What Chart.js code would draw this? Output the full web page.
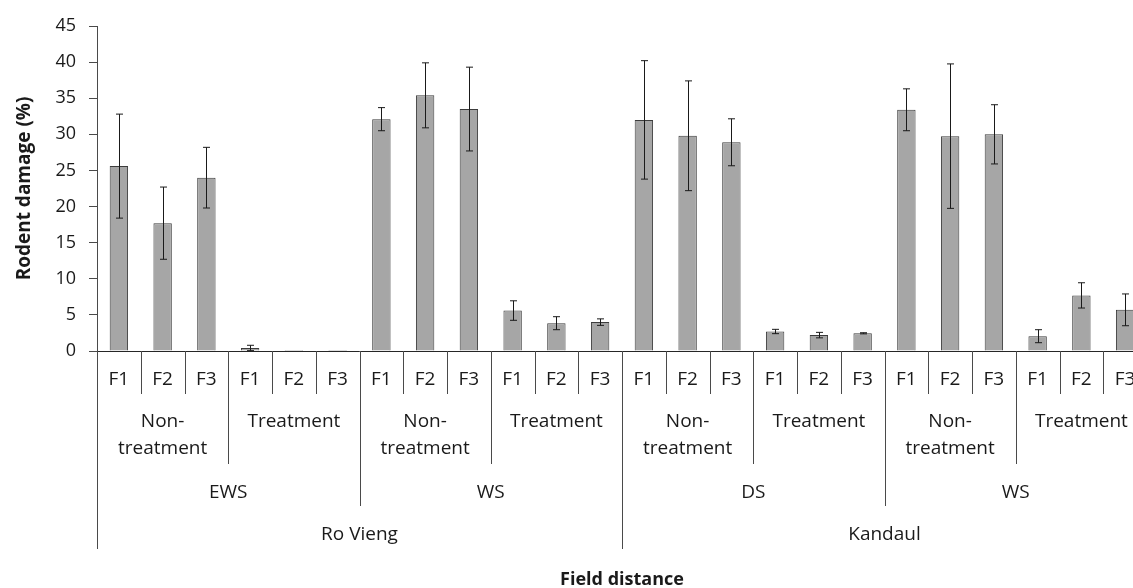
<!DOCTYPE html>
<html>
<head>
<meta charset="utf-8">
<script src="https://cdn.jsdelivr.net/npm/chart.js@4.4.1/dist/chart.umd.min.js"></script>
<style>
  html, body { margin: 0; padding: 0; background: #fff; overflow: hidden; }
  #wrap { width: 1133px; height: 588px; overflow: hidden; position: relative; }
  canvas { display: block; }
</style>
</head>
<body>
<div id="wrap"><canvas id="chart" width="1147" height="588"></canvas></div>
<script>
// Innermost category level: field distance
const fieldLabels = [
  'F1','F2','F3','F1','F2','F3',
  'F1','F2','F3','F1','F2','F3',
  'F1','F2','F3','F1','F2','F3',
  'F1','F2','F3','F1','F2','F3'
];
// Treatment groups (each spans 3 fields), written as wrapped lines
const treatmentLabels = [
  ['Non-', 'treatment'], ['Treatment'],
  ['Non-', 'treatment'], ['Treatment'],
  ['Non-', 'treatment'], ['Treatment'],
  ['Non-', 'treatment'], ['Treatment']
];
// Seasons (each spans 6 fields)
const seasonLabels = ['EWS', 'WS', 'DS', 'WS'];
// Sites (each spans 12 fields)
const siteLabels = ['Ro Vieng', 'Kandaul'];

// Mean rodent damage (%) and its error
const damage = [
  25.6, 17.7, 24.0, 0.42, 0.15, 0.15,
  32.1, 35.4, 33.5, 5.6, 3.85, 4.0,
  32.0, 29.8, 28.9, 2.7, 2.2, 2.45,
  33.4, 29.75, 30.0, 2.05, 7.7, 5.7
];
const damageErr = [
  7.2, 5.0, 4.2, 0.37, 0, 0,
  1.6, 4.5, 5.8, 1.35, 0.9, 0.45,
  8.2, 7.6, 3.25, 0.3, 0.38, 0.08,
  2.9, 10.0, 4.1, 0.9, 1.75, 2.2
];

// Value axis range
const yMin = 0;
const yMax = 45;
const yStep = 5;

const FONT = "'Open Sans', 'Noto Sans', sans-serif";
const TEXT = '#1a1a1a';
const LINE = '#4a4a4a';

Chart.defaults.font.family = FONT;
Chart.defaults.color = TEXT;

// Vertical error bars with short caps
const errorBars = {
  id: 'errorBars',
  afterDatasetsDraw(chart) {
    const { ctx, scales: { y } } = chart;
    const meta = chart.getDatasetMeta(0);
    ctx.save();
    ctx.strokeStyle = '#1a1a1a';
    ctx.lineWidth = 1;
    meta.data.forEach((bar, i) => {
      const e = damageErr[i];
      if (!e) return;
      const x = Math.round(bar.x) + 0.5;
      const yt = y.getPixelForValue(damage[i] + e);
      const yb = y.getPixelForValue(Math.max(0, damage[i] - e));
      ctx.beginPath();
      ctx.moveTo(x, yt); ctx.lineTo(x, yb);
      ctx.moveTo(x - 3.5, yt); ctx.lineTo(x + 3.5, yt);
      ctx.moveTo(x - 3.5, yb); ctx.lineTo(x + 3.5, yb);
      ctx.stroke();
    });
    ctx.restore();
  }
};

// Nested category labels below the axis, with separators between groups
const groupAxis = {
  id: 'groupAxis',
  afterDraw(chart) {
    const { ctx, chartArea, scales: { x } } = chart;
    const base = chartArea.bottom;
    const n = fieldLabels.length;
    const edge = b => x.getPixelForValue(b - 0.5);
    const levels = [
      { labels: fieldLabels.map(s => [s]), lineEnd: 43, textY: 29 },
      { labels: treatmentLabels, lineEnd: 113, textY: 71 },
      { labels: seasonLabels.map(s => [s]), lineEnd: 155, textY: 142 },
      { labels: siteLabels.map(s => [s]), lineEnd: 198, textY: 184 }
    ];
    levels.forEach(l => { l.size = n / l.labels.length; });

    ctx.save();
    ctx.strokeStyle = LINE;
    ctx.lineWidth = 1;
    for (let b = 0; b <= n; b++) {
      let depth = 0;
      levels.forEach((l, k) => { if (b % l.size === 0) depth = k; });
      const px = Math.round(edge(b)) + 0.5;
      ctx.beginPath();
      ctx.moveTo(px, base);
      ctx.lineTo(px, base + levels[depth].lineEnd);
      ctx.stroke();
    }

    ctx.fillStyle = TEXT;
    ctx.font = '19px ' + FONT;
    ctx.textAlign = 'center';
    ctx.textBaseline = 'middle';
    levels.forEach(l => {
      l.labels.forEach((lines, g) => {
        const cx = (edge(g * l.size) + edge((g + 1) * l.size)) / 2;
        lines.forEach((t, j) => ctx.fillText(t, cx, base + l.textY + j * 27));
      });
    });

    ctx.font = 'bold 18px ' + FONT;
    ctx.fillText('Field distance', (chartArea.left + chartArea.right) / 2, base + 229);
    ctx.restore();
  }
};

new Chart(document.getElementById('chart'), {
  type: 'bar',
  data: {
    labels: fieldLabels,
    datasets: [{
      data: damage,
      backgroundColor: '#a6a6a6',
      borderColor: '#3c3c3c',
      borderWidth: 1,
      barPercentage: 0.42,
      categoryPercentage: 1
    }]
  },
  options: {
    responsive: false,
    animation: false,
    events: [],
    layout: { padding: { top: 26, bottom: 229, left: 0, right: 0 } },
    plugins: { legend: { display: false }, tooltip: { enabled: false } },
    scales: {
      x: {
        offset: true,
        ticks: { display: false },
        grid: { display: false },
        border: { display: true, color: '#262626', width: 1 }
      },
      y: {
        min: yMin,
        max: yMax,
        ticks: { stepSize: yStep, font: { size: 18 }, color: TEXT, padding: 13 },
        grid: { drawOnChartArea: false, drawTicks: true, tickLength: 8, color: LINE },
        border: { display: true, color: LINE, width: 1 },
        title: {
          display: true,
          text: 'Rodent damage (%)',
          font: { size: 19, weight: 'bold' },
          color: TEXT,
          padding: { top: 13, bottom: 0 }
        },
        afterFit(scale) { scale.width = 97; }
      }
    }
  },
  plugins: [errorBars, groupAxis]
});
</script>
</body>
</html>
